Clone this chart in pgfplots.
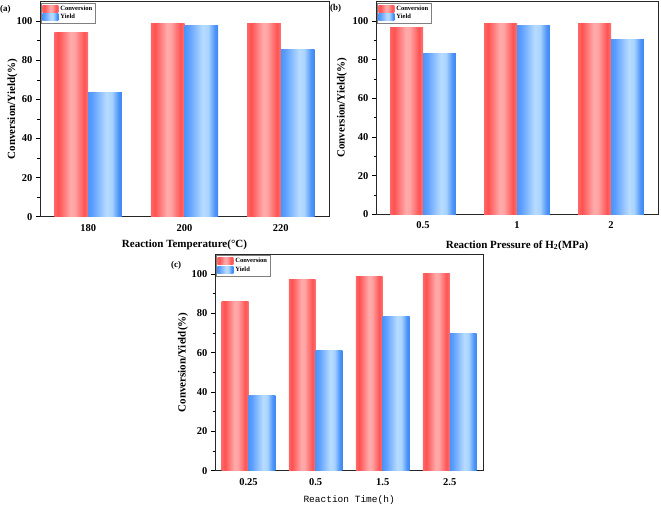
\documentclass[border=0pt]{standalone}
\usepackage{pgfplots}
\pgfplotsset{compat=1.18}
\usepackage{fontspec}
\setmainfont{Liberation Serif}[BoldFont={Liberation Serif Bold},ItalicFont={Liberation Serif Italic}]
\newfontfamily\monofont{Liberation Mono}

\pgfdeclarehorizontalshading{redsh}{100bp}{rgb(0bp)=(1,0.40,0.40); rgb(25bp)=(1,0.40,0.40); rgb(31bp)=(1,0.32,0.32); rgb(49bp)=(1,0.67,0.67); rgb(55bp)=(1,0.64,0.64); rgb(69bp)=(1,0.33,0.33); rgb(75bp)=(1,0.45,0.45); rgb(100bp)=(1,0.45,0.45)}
\pgfdeclarehorizontalshading{bluesh}{100bp}{rgb(0bp)=(0.30,0.58,0.98); rgb(25bp)=(0.30,0.58,0.98); rgb(31bp)=(0.36,0.62,1); rgb(52bp)=(0.72,0.86,1); rgb(60bp)=(0.66,0.83,1); rgb(70bp)=(0.30,0.58,0.97); rgb(75bp)=(0.24,0.53,0.95); rgb(100bp)=(0.24,0.53,0.95)}

\pgfplotsset{
  common/.style={
    anchor=south west, scale only axis,
    ymin=0, ymax=110,
    ytick={0,20,...,100}, minor y tick num=1,
    tick align=outside, tick pos=left,
    major tick length=4pt, minor tick length=2.5pt,
    xtick style={draw=none},
    axis line style={line width=0.8pt, draw=black!85},
    y tick style={line width=0.7pt, black},
    tick label style={font=\bfseries\fontsize{10.5}{12}\selectfont},
    /pgf/number format/assume math mode=true,
    label style={font=\bfseries\fontsize{11}{13}\selectfont},
    legend style={at={(0.004,0.996)}, anchor=north west, draw=black!50, line width=0.5pt,
      font=\bfseries\fontsize{6.5}{7.5}\selectfont, inner sep=1pt, row sep=-1.5pt,
      cells={anchor=west}},
  },
  conv/.style={fill=none, draw=none, shading=redsh,
    legend image code/.code={\path[shading=redsh] (0pt,-3.5pt) rectangle (16pt,3.5pt);}},
  yld/.style={fill=none, draw=none, shading=bluesh,
    legend image code/.code={\path[shading=bluesh] (0pt,-3.5pt) rectangle (16pt,3.5pt);}},
}

\begin{document}
\begin{tikzpicture}[x=1pt,y=1pt]
\path[use as bounding box] (0,0) rectangle (661,507);

% (a)
\begin{axis}[common, at={(40pt,290.3pt)}, width=289pt, height=215pt,
  xmin=-0.5, xmax=2.5, ybar, bar width=0.35,
  xtick={0,1,2}, xticklabels={180,200,220},
  xlabel={Reaction Temperature(\textdegree C)},
  ylabel={Conversion/Yield(\%)},
  xlabel style={at={([yshift=-28pt]axis description cs:0.5,0)}, anchor=center},
  ylabel style={at={([xshift=-27.5pt]axis description cs:0,0.5)}, anchor=center},
]
\addplot[conv, bar shift=-0.175] coordinates {(0,94.4)};
\addplot[yld, bar shift=0.175] coordinates {(0,63.8)};
\addplot[conv, bar shift=-0.175, forget plot] coordinates {(1,98.6)};
\addplot[yld, bar shift=0.175, forget plot] coordinates {(1,98.0)};
\addplot[conv, bar shift=-0.175, forget plot] coordinates {(2,98.6)};
\addplot[yld, bar shift=0.175, forget plot] coordinates {(2,85.4)};
\legend{Conversion,Yield}
\end{axis}

% (b)
\begin{axis}[common, at={(376pt,292.7pt)}, width=282pt, height=212.6pt,
  xmin=-0.5, xmax=2.5, ybar, bar width=0.35,
  xtick={0,1,2}, xticklabels={0.5,1,2},
  xlabel={Reaction Pressure of H\textsubscript{2}(MPa)},
  ylabel={Conversion/Yield(\%)},
  xlabel style={at={([yshift=-31pt]axis description cs:0.5,0)}, anchor=center},
  ylabel style={at={([xshift=-34pt]axis description cs:0,0.5)}, anchor=center},
]
\addplot[conv, bar shift=-0.175] coordinates {(0,96.9)};
\addplot[yld, bar shift=0.175] coordinates {(0,83.0)};
\addplot[conv, bar shift=-0.175, forget plot] coordinates {(1,98.5)};
\addplot[yld, bar shift=0.175, forget plot] coordinates {(1,97.8)};
\addplot[conv, bar shift=-0.175, forget plot] coordinates {(2,98.5)};
\addplot[yld, bar shift=0.175, forget plot] coordinates {(2,90.7)};
\legend{Conversion,Yield}
\end{axis}

% (c)
\begin{axis}[common, at={(215pt,36.3pt)}, width=268.3pt, height=216.4pt,
  xmin=-0.5, xmax=3.5, ybar, bar width=0.4,
  xtick={0,1,2,3}, xticklabels={0.25,0.5,1.5,2.5},
  xlabel={\monofont\mdseries\fontsize{9.5}{11}\selectfont Reaction Time(h)},
  ylabel={Conversion/Yield(\%)},
  xlabel style={at={([yshift=-29pt]axis description cs:0.5,0)}, anchor=center},
  ylabel style={at={([xshift=-32pt]axis description cs:0,0.5)}, anchor=center},
]
\addplot[conv, bar shift=-0.2] coordinates {(0,86.1)};
\addplot[yld, bar shift=0.2] coordinates {(0,38.3)};
\addplot[conv, bar shift=-0.2, forget plot] coordinates {(1,97.3)};
\addplot[yld, bar shift=0.2, forget plot] coordinates {(1,61.0)};
\addplot[conv, bar shift=-0.2, forget plot] coordinates {(2,98.6)};
\addplot[yld, bar shift=0.2, forget plot] coordinates {(2,78.5)};
\addplot[conv, bar shift=-0.2, forget plot] coordinates {(3,100)};
\addplot[yld, bar shift=0.2, forget plot] coordinates {(3,69.9)};
\legend{Conversion,Yield}
\end{axis}

\node[font=\bfseries\fontsize{9}{10}\selectfont, anchor=west, inner sep=0pt] at (0,498) {(a)};
\node[font=\bfseries\fontsize{9}{10}\selectfont, anchor=west, inner sep=0pt] at (330,499) {(b)};
\node[font=\bfseries\fontsize{9}{10}\selectfont, anchor=west, inner sep=0pt] at (171,242) {(c)};
\end{tikzpicture}
\end{document}
